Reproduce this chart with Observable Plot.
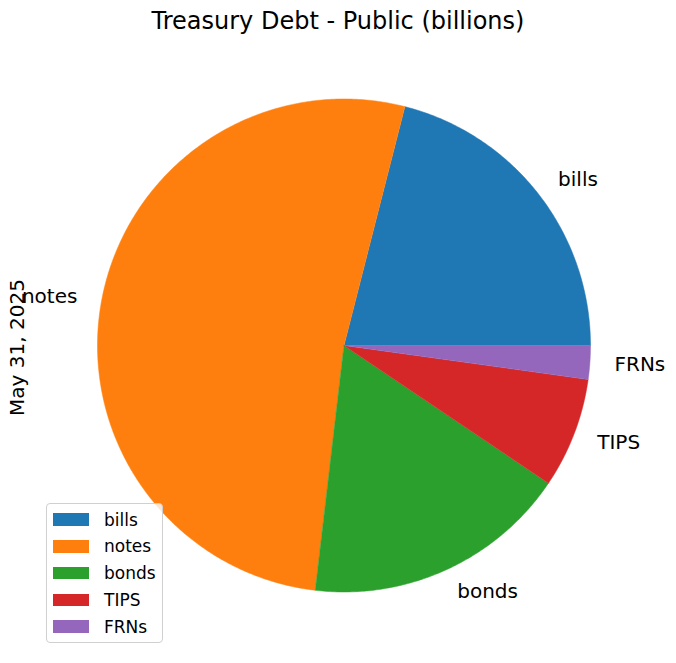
<!DOCTYPE html>
<html>
<head>
<meta charset="utf-8">
<script src="https://cdn.jsdelivr.net/npm/d3@7"></script>
<script src="https://cdn.jsdelivr.net/npm/@observablehq/plot@0.6"></script>
<style>
  body { margin: 0; background: #fff; font-family: "DejaVu Sans", sans-serif; }
  #wrap { position: relative; width: 676px; height: 663px; }
  #title { height: 42px; line-height: 42px; text-align: center; font-size: 24px; color: #000; }
  #legend { position: absolute; left: 46px; top: 503px; width: 117px; height: 140px;
    border: 1px solid #d0d0d0; border-radius: 4px; background: rgba(255,255,255,0.8); box-sizing: border-box; }
  .row { position: absolute; left: 6px; height: 20px; display: flex; align-items: center; font-size: 17px; }
  .sw { width: 36px; height: 12.5px; margin-right: 15px; }
</style>
</head>
<body>
<div id="wrap">
  <div id="title">Treasury Debt - Public (billions)</div>
  <div id="chart"></div>
  <div id="legend"></div>
</div>
<script>
const categories = ["bills", "notes", "bonds", "TIPS", "FRNs"];
const values = [6057, 15011, 5020, 2082, 634];
const colors = ["#1f77b4", "#ff7f0e", "#2ca02c", "#d62728", "#9467bd"];
const yLabel = "May 31, 2025";

const W = 676, H = 621;
const cx = 343.5, cy = 303, R = 246.5;
const total = d3.sum(values);

// slice polygons (matplotlib: start at 0°, counterclockwise)
const slices = [];
const labels = [];
let cum = 0;
categories.forEach((cat, i) => {
  const a0 = 2 * Math.PI * cum / total;
  const a1 = 2 * Math.PI * (cum + values[i]) / total;
  const n = Math.max(4, Math.ceil((a1 - a0) / 0.01));
  slices.push({cat, x: 0, y: 0});
  for (let k = 0; k <= n; k++) {
    const a = a0 + (a1 - a0) * k / n;
    slices.push({cat, x: Math.cos(a), y: Math.sin(a)});
  }
  const am = (a0 + a1) / 2;
  labels.push({cat, x: 1.1 * Math.cos(am), y: 1.1 * Math.sin(am)});
  cum += values[i];
});

const plot = Plot.plot({
  width: W, height: H,
  marginTop: 0, marginRight: 0, marginBottom: 0, marginLeft: 0,
  style: {fontFamily: "DejaVu Sans, sans-serif", background: "#fff"},
  x: {domain: [-cx / R, (W - cx) / R], axis: null},
  y: {domain: [-(H - cy) / R, cy / R], axis: null},
  color: {domain: categories, range: colors},
  marks: [
    Plot.line(slices, {x: "x", y: "y", z: "cat", fill: "cat", stroke: "cat", strokeWidth: 0.5, curve: "linear"}),
    Plot.text(labels.filter(d => d.x > 0), {x: "x", y: "y", text: "cat", textAnchor: "start", fontSize: 20, fill: "#000"}),
    Plot.text(labels.filter(d => d.x <= 0), {x: "x", y: "y", text: "cat", textAnchor: "end", fontSize: 20, fill: "#000"}),
    Plot.text([yLabel], {frameAnchor: "left", y: [0], text: d => d, rotate: -90, dx: 17, dy: 2, textAnchor: "middle", fontSize: 20, fill: "#000"})
  ]
});
document.getElementById("chart").appendChild(plot);

// legend built from the colour scale
const colorScale = plot.scale("color");
const leg = document.getElementById("legend");
colorScale.domain.forEach((cat, i) => {
  const row = document.createElement("div");
  row.className = "row";
  row.style.top = (5.5 + i * 26.8) + "px";
  const sw = document.createElement("div");
  sw.className = "sw";
  sw.style.background = colorScale.range[i];
  const t = document.createElement("span");
  t.textContent = cat;
  row.appendChild(sw); row.appendChild(t);
  leg.appendChild(row);
});
</script>
</body>
</html>
